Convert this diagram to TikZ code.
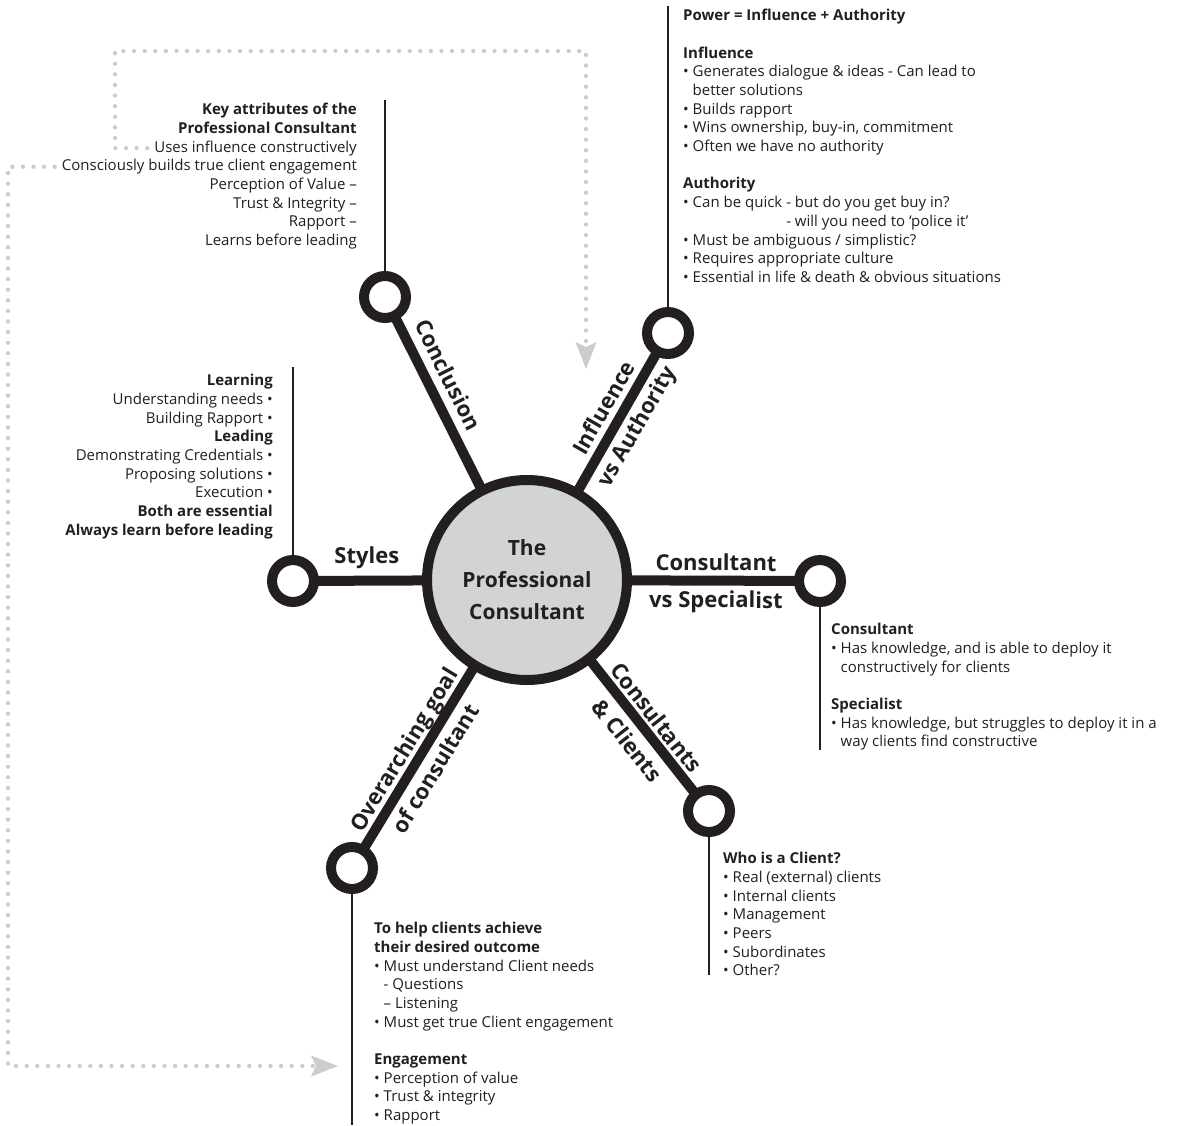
\documentclass[tikz,border=0pt]{standalone}
\usepackage{fontspec}
\setmainfont{Open Sans}
\usetikzlibrary{arrows.meta,backgrounds}
\definecolor{ink}{HTML}{231F20}
\definecolor{hubgrey}{HTML}{D1D3D4}
\definecolor{trailgrey}{HTML}{CBCCCD}
\begin{document}
\begin{tikzpicture}[x=1pt,y=-1pt,
  spoke/.style={draw=ink,line width=10pt},
  ring/.style={circle,draw=ink,line width=10pt,fill=white,minimum size=42pt,inner sep=0pt},
  hubnode/.style={circle,draw=ink,line width=10pt,fill=hubgrey,minimum size=200pt,inner sep=0pt,
     align=center,text=ink,font=\bfseries\fontsize{21}{32}\selectfont},
  stem/.style={draw=ink,line width=2.6pt},
  body/.style={inner sep=0pt,text=ink,font=\fontsize{15}{18.7}\selectfont},
  lblock/.style={body,align=left,anchor=north west},
  rblock/.style={body,align=right,anchor=north east},
  armlabel/.style={inner sep=0pt,text=ink,align=center,sloped,font=\bfseries\fontsize{22}{37}\selectfont},
  trail/.style={draw=trailgrey,line width=4.3pt,line cap=round,dash pattern=on 0pt off 10.6pt},
  trailtip/.style={-{Stealth[length=27pt,width=21pt,inset=5pt,color=trailgrey,line width=0pt]}}
]
\useasboundingbox (0,0) rectangle (1183,1125);

% hub and the six end rings
\node[hubnode] (hub) at (527,580) {The\\Professional\\Consultant};
\node[ring] (cStyles) at (293,581) {};
\node[ring] (cConc) at (385,297) {};
\node[ring] (cInf) at (668,333) {};
\node[ring] (cSpec) at (820,581) {};
\node[ring] (cCli) at (709,811) {};
\node[ring] (cGoal) at (352,868) {};

% spokes sit behind the hub and rings
\begin{scope}[on background layer]
  \fill[white] (0,0) rectangle (1183,1125);
  \foreach \c in {cStyles,cConc,cInf,cSpec,cCli,cGoal}
    \draw[spoke] (hub.center) -- (\c.center);
\end{scope}

% spoke labels
\path (hub.center) -- (cStyles.center) node[armlabel,pos=0.684,above=12pt] (lStyles) {Styles};
\path (hub.center) -- (cConc.center) node[armlabel,pos=0.69,above=13pt] (lConc) {Conclusion};
\path (hub.center) -- (cInf.center) node[armlabel,pos=0.66,yshift=-2pt] (lInf) {Influence\\vs Authority};
\path (hub.center) -- (cSpec.center) node[armlabel,pos=0.645,yshift=-3pt] (lSpec) {Consultant\\vs Specialist};
\path (hub.center) -- (cCli.center) node[armlabel,pos=0.64,yshift=-2pt] (lCli) {Consultants\\\& Clients};
\path (hub.center) -- (cGoal.center) node[armlabel,pos=0.62,yshift=-1pt] (lGoal) {Overarching goal\\of consultant};

% stems leading to the text blocks
\coordinate (concTop) at (385,100);
\coordinate (infTop) at (668,6);
\coordinate (stylesTop) at (293,367);
\coordinate (specFoot) at (820,750);
\coordinate (cliFoot) at (709,975);
\coordinate (goalFoot) at (352,1125);
\draw[stem] (cConc.north) -- (concTop);
\draw[stem] (cInf.north) -- (infTop);
\draw[stem] (cStyles.north) -- (stylesTop);
\draw[stem] (cSpec.south) -- (specFoot);
\draw[stem] (cCli.south) -- (cliFoot);
\draw[stem] (cGoal.south) -- (goalFoot);

% Conclusion text
\node[rblock] (kaHead) at (357,103) {\textbf{Key attributes of the}\\\textbf{Professional Consultant}};
\node[rblock] (kaUse) at (357,140.4) {Uses influence constructively};
\node[rblock] (kaCons) at (357,159.1) {Consciously builds true client engagement};
\node[rblock] (kaRest) at (357,177.8) {Perception of Value –\\Trust \& Integrity –\\Rapport –\\Learns before leading};

% Influence vs Authority text
\node[lblock] (infText) at (683,9) {\textbf{Power = Influence + Authority}\\
\mbox{}\\
\textbf{Influence}\\
• Generates dialogue \& ideas - Can lead to\\
\phantom{• }better solutions\\
• Builds rapport\\
• Wins ownership, buy-in, commitment\\
• Often we have no authority\\
\mbox{}\\
\textbf{Authority}\\
• Can be quick - but do you get buy in?\\
\phantom{• Can be quick }- will you need to ‘police it’\\
• Must be ambiguous / simplistic?\\
• Requires appropriate culture\\
• Essential in life \& death \& obvious situations};

% Styles text
\node[rblock] (styText) at (273,374) {\textbf{Learning}\\
Understanding needs •\\
Building Rapport •\\
\textbf{Leading}\\
Demonstrating Credentials •\\
Proposing solutions •\\
Execution •\\
\textbf{Both are essential}\\
\textbf{Always learn before leading}};

% Consultant vs Specialist text
\node[lblock] (specText) at (831,623) {\textbf{Consultant}\\
• Has knowledge, and is able to deploy it\\
\phantom{• }constructively for clients\\
\mbox{}\\
\textbf{Specialist}\\
• Has knowledge, but struggles to deploy it in a\\
\phantom{• }way clients find constructive};

% Consultants & Clients text
\node[lblock] (cliText) at (723,852) {\textbf{Who is a Client?}\\
• Real (external) clients\\
• Internal clients\\
• Management\\
• Peers\\
• Subordinates\\
• Other?};

% Overarching goal text
\node[lblock] (goalText) at (374,922) {\textbf{To help clients achieve}\\
\textbf{their desired outcome}\\
• Must understand Client needs\\
\phantom{• }- Questions\\
\phantom{• }– Listening\\
• Must get true Client engagement\\
\mbox{}\\
\textbf{Engagement}\\
• Perception of value\\
• Trust \& integrity\\
• Rapport};

% dotted cross-references
\coordinate (infPoint) at (586,369);
\coordinate (goalPoint) at (338,1066);
\draw[trail,trailtip] ([xshift=-7pt]kaUse.west) -| (115,51) -| (infPoint);
\draw[trail,trailtip] ([xshift=-7pt]kaCons.west) -| (8,1066) -- (goalPoint);
\end{tikzpicture}
\end{document}
